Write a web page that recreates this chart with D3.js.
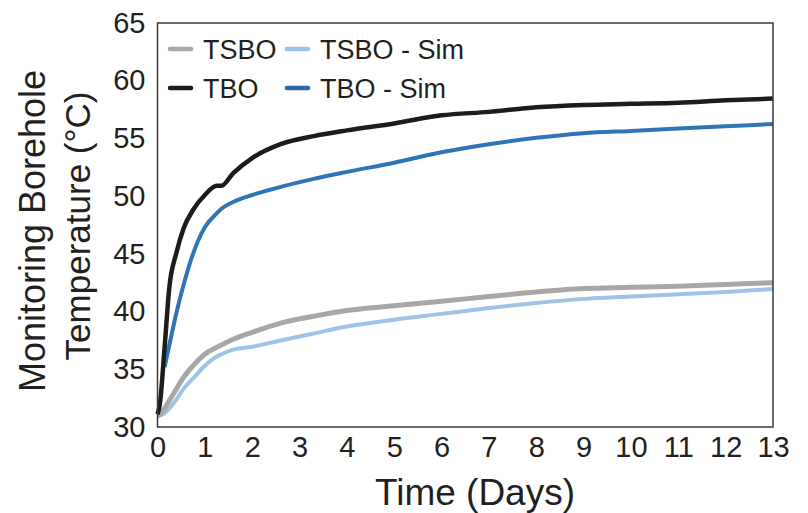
<!DOCTYPE html>
<html>
<head>
<meta charset="utf-8">
<script src="https://cdn.jsdelivr.net/npm/d3@7"></script>
<style>
  body { margin: 0; background: #fff; }
  text { font-family: Arial, "Liberation Sans", sans-serif; fill: #231f20; }
</style>
</head>
<body>
<div id="chart"></div>
<script>
// time in days (shared by all series)
const days = [0, 0.05, 0.15, 0.25, 0.4, 0.55, 0.75, 1.0, 1.25, 1.35, 1.6, 2.0, 2.6, 3.3, 4, 5, 6, 7, 8, 9, 10, 11, 12, 13]

// monitoring borehole temperature (°C)
const tbo = [31.1, 32.0, 36.9, 42.1, 45.1, 47.2, 48.8, 50.1, 50.9, 50.9, 52.0, 53.3, 54.5, 55.2, 55.7, 56.3, 57.0, 57.3, 57.7, 57.9, 58.0, 58.1, 58.3, 58.45]
const tboSim = [null, null, 35.2, 37.1, 39.9, 42.3, 45.0, 47.3, 48.5, 48.9, 49.5, 50.1, 50.8, 51.5, 52.1, 52.9, 53.8, 54.5, 55.05, 55.45, 55.65, 55.85, 56.05, 56.25]
const tsbo = [31.0, 31.1, 31.6, 32.3, 33.3, 34.3, 35.3, 36.3, 36.9, 37.1, 37.6, 38.2, 39.0, 39.6, 40.1, 40.5, 40.9, 41.3, 41.7, 42.0, 42.1, 42.2, 42.35, 42.5]
const tsboSim = [30.9, 31.0, 31.2, 31.6, 32.4, 33.3, 34.2, 35.3, 36.1, 36.3, 36.7, 36.95, 37.5, 38.1, 38.7, 39.3, 39.8, 40.3, 40.75, 41.1, 41.3, 41.5, 41.7, 41.95]

const xTicks = d3.range(0, 14, 1)
const yTicks = [30, 35, 40, 45, 50, 55, 60, 65]

const series = [
    { name: 'TSBO - Sim', values: tsboSim, color: '#9dc3e6', width: 4 },
    { name: 'TSBO', values: tsbo, color: '#a7a7a7', width: 5 },
    { name: 'TBO - Sim', values: tboSim, color: '#2e75b6', width: 4 },
    { name: 'TBO', values: tbo, color: '#1c1c1c', width: 4.5 }
]

const w = 808
const h = 513
const pLeft = 157.5, pRight = 773, pTop = 23, pBottom = 427

const svg = d3.select('#chart')
    .append('svg')
    .attr('width', w)
    .attr('height', h)

const xScale = d3.scaleLinear().domain([0, 13]).range([pLeft, pRight])
const yScale = d3.scaleLinear().domain([30, 65]).range([pBottom, pTop])

// curves
const line = d3.line()
    .defined(d => d[1] != null)
    .x(d => xScale(d[0]))
    .y(d => yScale(d[1]))
    .curve(d3.curveMonotoneX)

svg.selectAll('path.curve')
    .data(series)
    .enter()
    .append('path')
    .attr('class', 'curve')
    .attr('fill', 'none')
    .attr('stroke', d => d.color)
    .attr('stroke-width', d => d.width)
    .attr('stroke-linejoin', 'round')
    .attr('d', d => line(days.map((t, i) => [t, d.values[i]])))

// frame
svg.append('rect')
    .attr('x', pLeft)
    .attr('y', pTop)
    .attr('width', pRight - pLeft)
    .attr('height', pBottom - pTop)
    .attr('fill', 'none')
    .attr('stroke', '#3a3a3a')
    .attr('stroke-width', 1.5)

// axes (labels only)
const xAxis = d3.axisBottom(xScale).tickValues(xTicks).tickSize(0).tickPadding(9)
const gx = svg.append('g')
    .attr('transform', 'translate(0,' + pBottom + ')')
    .call(xAxis)

const yAxis = d3.axisLeft(yScale).tickValues(yTicks).tickSize(0).tickPadding(12)
const gy = svg.append('g')
    .attr('transform', 'translate(' + pLeft + ',0)')
    .call(yAxis)

gx.select('.domain').remove()
gy.select('.domain').remove()
svg.selectAll('.tick text')
    .attr('font-size', 29)
    .attr('font-family', 'Arial, "Liberation Sans", sans-serif')
    .attr('fill', '#231f20')

// axis titles
svg.append('text')
    .attr('x', 475)
    .attr('y', 505)
    .attr('text-anchor', 'middle')
    .attr('font-size', 37)
    .text('Time (Days)')

svg.append('text')
    .attr('transform', 'translate(45,231) rotate(-90)')
    .attr('text-anchor', 'middle')
    .attr('font-size', 36)
    .text('Monitoring Borehole')

svg.append('text')
    .attr('transform', 'translate(90,226) rotate(-90)')
    .attr('text-anchor', 'middle')
    .attr('font-size', 35)
    .text('Temperature (°C)')

// legend
const legendItems = [
    { name: 'TSBO', color: '#a7a7a7', col: 0, row: 0 },
    { name: 'TSBO - Sim', color: '#9dc3e6', col: 1, row: 0 },
    { name: 'TBO', color: '#1c1c1c', col: 0, row: 1 },
    { name: 'TBO - Sim', color: '#2a679f', col: 1, row: 1 }
]

const legend = svg.selectAll('g.legend')
    .data(legendItems)
    .enter()
    .append('g')
    .attr('class', 'legend')
    .attr('transform', d => 'translate(' + (170 + d.col * 117) + ',' + (49 + d.row * 39) + ')')

legend.append('line')
    .attr('x1', 0)
    .attr('x2', 21)
    .attr('stroke', d => d.color)
    .attr('stroke-width', 4.5)
    .attr('stroke-linecap', 'round')

legend.append('text')
    .attr('x', 33)
    .attr('y', 9.5)
    .attr('font-size', 27)
    .text(d => d.name)
</script>
</body>
</html>
